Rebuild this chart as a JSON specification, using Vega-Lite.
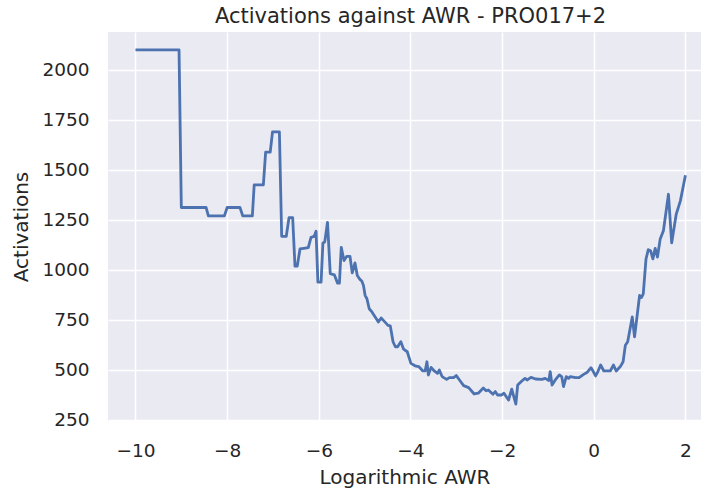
{
  "$schema": "https://vega.github.io/schema/vega-lite/v6.json",
  "width": 593,
  "height": 389,
  "autosize": {"type": "none"},
  "padding": {"left": 108, "top": 32, "right": 0, "bottom": 72},
  "background": "white",
  "title": {"text": "Activations against AWR - PRO017+2", "font": "DejaVu Sans", "fontSize": 21, "fontWeight": "normal", "color": "#262626", "offset": 5, "dx": 6},
  "config": {
    "view": {"fill": "#EAEAF2", "stroke": null},
    "axis": {
      "domain": false, "ticks": false, "grid": true, "gridColor": "white", "gridWidth": 1.5,
      "labelFont": "DejaVu Sans", "labelFontSize": 18.5, "labelColor": "#262626",
      "titleFont": "DejaVu Sans", "titleFontSize": 20, "titleFontWeight": "normal", "titleColor": "#262626"
    }
  },
  "data": {"values": [
    {"x": -10, "y": 2100}, {"x": -9.05, "y": 2100}, {"x": -9.0, "y": 1312}, {"x": -8.46, "y": 1312},
    {"x": -8.41, "y": 1270}, {"x": -8.06, "y": 1270}, {"x": -8.0, "y": 1312}, {"x": -7.72, "y": 1312},
    {"x": -7.66, "y": 1270}, {"x": -7.45, "y": 1270}, {"x": -7.41, "y": 1425}, {"x": -7.21, "y": 1425},
    {"x": -7.16, "y": 1589}, {"x": -7.06, "y": 1589}, {"x": -7.01, "y": 1690}, {"x": -6.86, "y": 1690},
    {"x": -6.81, "y": 1168}, {"x": -6.71, "y": 1168}, {"x": -6.65, "y": 1261}, {"x": -6.57, "y": 1261},
    {"x": -6.52, "y": 1019}, {"x": -6.47, "y": 1019}, {"x": -6.41, "y": 1105}, {"x": -6.33, "y": 1108},
    {"x": -6.23, "y": 1112}, {"x": -6.17, "y": 1163}, {"x": -6.10, "y": 1168}, {"x": -6.06, "y": 1193},
    {"x": -6.02, "y": 939}, {"x": -5.95, "y": 939}, {"x": -5.91, "y": 1135}, {"x": -5.87, "y": 1140},
    {"x": -5.81, "y": 1238}, {"x": -5.75, "y": 981}, {"x": -5.66, "y": 975}, {"x": -5.59, "y": 934},
    {"x": -5.55, "y": 934}, {"x": -5.51, "y": 1113}, {"x": -5.45, "y": 1047}, {"x": -5.39, "y": 1068},
    {"x": -5.32, "y": 1068}, {"x": -5.27, "y": 985}, {"x": -5.21, "y": 1035}, {"x": -5.16, "y": 972},
    {"x": -5.11, "y": 955}, {"x": -5.06, "y": 943}, {"x": -5.025, "y": 922}, {"x": -4.99, "y": 873},
    {"x": -4.95, "y": 856}, {"x": -4.90, "y": 806}, {"x": -4.84, "y": 790}, {"x": -4.70, "y": 740},
    {"x": -4.64, "y": 760}, {"x": -4.57, "y": 743}, {"x": -4.49, "y": 723}, {"x": -4.44, "y": 720},
    {"x": -4.38, "y": 641}, {"x": -4.33, "y": 616}, {"x": -4.28, "y": 616}, {"x": -4.21, "y": 641},
    {"x": -4.15, "y": 604}, {"x": -4.07, "y": 591}, {"x": -3.99, "y": 533}, {"x": -3.90, "y": 521},
    {"x": -3.82, "y": 517}, {"x": -3.73, "y": 495}, {"x": -3.68, "y": 495}, {"x": -3.64, "y": 541},
    {"x": -3.61, "y": 475}, {"x": -3.55, "y": 513}, {"x": -3.48, "y": 495}, {"x": -3.41, "y": 483},
    {"x": -3.37, "y": 500}, {"x": -3.31, "y": 467}, {"x": -3.21, "y": 453}, {"x": -3.15, "y": 462},
    {"x": -3.06, "y": 462}, {"x": -3.00, "y": 472}, {"x": -2.93, "y": 450}, {"x": -2.84, "y": 422},
    {"x": -2.73, "y": 412}, {"x": -2.61, "y": 380}, {"x": -2.52, "y": 384}, {"x": -2.41, "y": 410},
    {"x": -2.35, "y": 396}, {"x": -2.30, "y": 400}, {"x": -2.20, "y": 379}, {"x": -2.15, "y": 392},
    {"x": -2.10, "y": 375}, {"x": -2.01, "y": 375}, {"x": -1.96, "y": 384}, {"x": -1.86, "y": 350},
    {"x": -1.79, "y": 404}, {"x": -1.70, "y": 329}, {"x": -1.66, "y": 425}, {"x": -1.57, "y": 445},
    {"x": -1.50, "y": 458}, {"x": -1.45, "y": 450}, {"x": -1.37, "y": 463}, {"x": -1.27, "y": 455},
    {"x": -1.13, "y": 453}, {"x": -1.06, "y": 458}, {"x": -0.98, "y": 447}, {"x": -0.95, "y": 492},
    {"x": -0.91, "y": 425}, {"x": -0.84, "y": 450}, {"x": -0.75, "y": 475}, {"x": -0.70, "y": 467},
    {"x": -0.66, "y": 417}, {"x": -0.60, "y": 467}, {"x": -0.55, "y": 458}, {"x": -0.51, "y": 467},
    {"x": -0.40, "y": 462}, {"x": -0.32, "y": 462}, {"x": -0.22, "y": 478}, {"x": -0.15, "y": 487},
    {"x": -0.06, "y": 511}, {"x": -0.01, "y": 492}, {"x": 0.04, "y": 470}, {"x": 0.09, "y": 492},
    {"x": 0.15, "y": 525}, {"x": 0.22, "y": 495}, {"x": 0.36, "y": 495}, {"x": 0.43, "y": 525},
    {"x": 0.49, "y": 495}, {"x": 0.58, "y": 517}, {"x": 0.64, "y": 541}, {"x": 0.69, "y": 624},
    {"x": 0.74, "y": 641}, {"x": 0.84, "y": 765}, {"x": 0.89, "y": 666}, {"x": 1.00, "y": 873},
    {"x": 1.04, "y": 862}, {"x": 1.08, "y": 880}, {"x": 1.14, "y": 1055}, {"x": 1.19, "y": 1101},
    {"x": 1.24, "y": 1096}, {"x": 1.29, "y": 1055}, {"x": 1.34, "y": 1108}, {"x": 1.39, "y": 1064},
    {"x": 1.45, "y": 1155}, {"x": 1.52, "y": 1196}, {"x": 1.63, "y": 1378}, {"x": 1.70, "y": 1135},
    {"x": 1.80, "y": 1279}, {"x": 1.89, "y": 1345}, {"x": 2.00, "y": 1473}
  ]},
  "mark": {"type": "line", "color": "#4C72B0", "strokeWidth": 2.8, "strokeJoin": "round", "clip": true},
  "encoding": {
    "x": {"field": "x", "type": "quantitative", "title": "Logarithmic AWR",
      "scale": {"domain": [-10.6, 2.34], "nice": false, "zero": false},
      "axis": {"values": [-10, -8, -6, -4, -2, 0, 2], "format": "d", "labelPadding": 20, "titlePadding": 8, "labelFlush": false}},
    "y": {"field": "y", "type": "quantitative", "title": "Activations",
      "scale": {"domain": [245, 2189], "nice": false, "zero": false},
      "axis": {"values": [250, 500, 750, 1000, 1250, 1500, 1750, 2000], "format": "d", "labelPadding": 19, "titlePadding": 10, "labelFlush": false}}
  }
}
